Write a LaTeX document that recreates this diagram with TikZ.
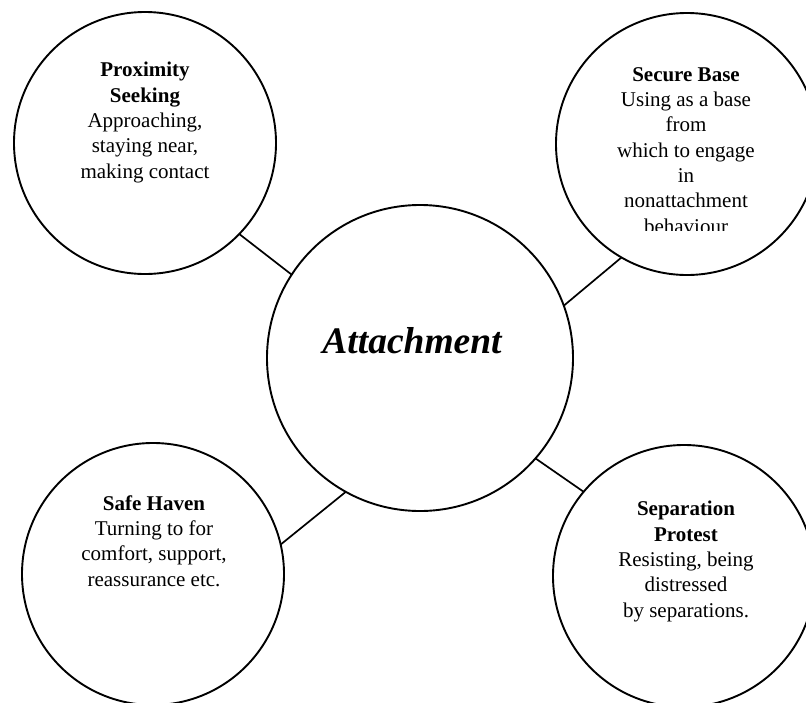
\documentclass[tikz,border=0pt]{standalone}
\usepackage{fontspec}
\setmainfont{Liberation Serif}
\begin{document}
\begin{tikzpicture}[x=1pt,y=-1pt,
  bubble/.style={circle,draw=black,line width=1.9pt,inner sep=0pt,outer sep=0pt,minimum size=262pt},
  hub/.style={circle,draw=black,line width=1.9pt,inner sep=0pt,outer sep=0pt,minimum size=306pt},
  txt/.style={align=center,anchor=base,inner sep=0pt,font=\fontsize{21}{25.3}\selectfont},
  hubtxt/.style={anchor=base,inner sep=0pt,font=\fontsize{37.5}{42}\selectfont\bfseries\itshape},
  link/.style={draw=black,line width=1.7pt}]
\useasboundingbox (0,0) rectangle (806,702);
\clip (0,0) rectangle (806,702);
\fill[white] (0,0) rectangle (806,702);

\node[hub] (hub) at (420,358) {};
\node[bubble] (ps) at (145,143) {};
\node[bubble] (sb) at (687,144) {};
\node[bubble] (sh) at (153,574) {};
\node[bubble] (sp) at (684,576) {};

\draw[link] (ps.-44) -- (hub.147);
\draw[link] (sb.-120) -- (hub.20);
\draw[link] (sh.13) -- (hub.241);
\draw[link] (sp.140) -- (hub.-41);

\node[hubtxt] (hubT) at (412,353) {Attachment};

\node[txt] (psT) at (145,178) {\textbf{Proximity}\\\textbf{Seeking}\\Approaching,\\staying near,\\making contact};
\begin{scope}
  \clip (540,0) rectangle (806,230);
  \node[txt] (sbT) at (686,233) {\textbf{Secure Base}\\Using as a base\\from\\which to engage\\in\\nonattachment\\behaviour};
\end{scope}
\node[txt] (shT) at (154,586) {\textbf{Safe Haven}\\Turning to for\\comfort, support,\\reassurance etc.};
\node[txt] (spT) at (686,617) {\textbf{Separation}\\\textbf{Protest}\\Resisting, being\\distressed\\by separations.};
\end{tikzpicture}
\end{document}
